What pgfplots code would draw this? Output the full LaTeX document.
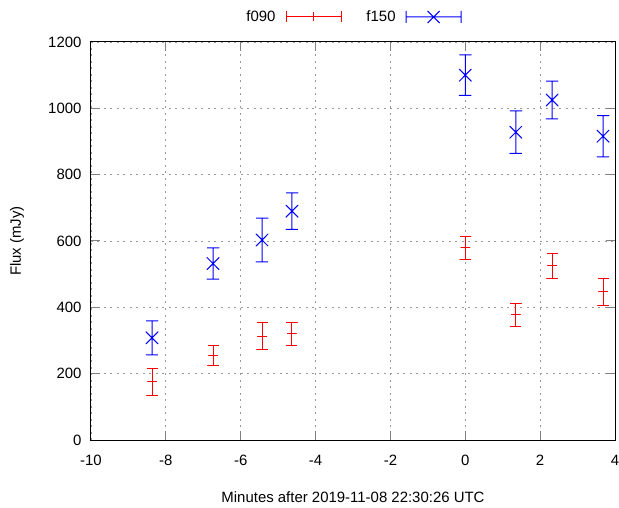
\documentclass[border=0pt]{standalone}
\usepackage{pgfplots}
\pgfplotsset{compat=1.18}
\usepackage{fontspec}
\setmainfont{Liberation Sans}
% Each point is drawn as one path (cap, bar, marker, bar, cap) so that no
% per-point mark scopes are used; points are separated by nan (jump).
% f090 (x, y, err): (-8.37,175,42) (-6.74,256,30) (-5.43,313,40) (-4.63,320,34)
%                   (0,580,35) (1.35,377,36) (2.32,525,37) (3.68,447,40)
% f150 (x, y, err): (-8.37,308,51) (-6.74,532,47) (-5.43,603,66) (-4.63,690,55)
%                   (0,1100,61) (1.35,928,64) (2.32,1025,57) (3.68,916,62)
\begin{document}
\begin{tikzpicture}
\begin{axis}[
  scale only axis,
  width=524bp, height=398bp,
  xmin=-10, xmax=4, ymin=0, ymax=1200,
  xtick={-10,-8,...,4}, ytick={0,200,...,1200},
  grid=major,
  grid style={draw=black!40, dash pattern=on 2bp off 4.5bp, line width=0.9bp},
  tick align=inside, major tick length=9bp,
  xtick pos=both, ytick pos=both,
  tick style={line width=1bp},
  axis line style={line width=1bp},
  unbounded coords=jump,
  /pgf/number format/assume math mode=true,
  /pgf/number format/1000 sep={},
  ticklabel style={font=\fontsize{15}{18}\selectfont},
  xticklabel style={yshift=-12bp},
  yticklabel style={xshift=-6bp},
  every axis x label/.style={at={(axis description cs:0.5,0)}, anchor=center, yshift=-57bp, font=\fontsize{15}{18}\selectfont},
  every axis y label/.style={at={(axis description cs:0,0.5)}, xshift=-74bp, rotate=90, anchor=center, font=\fontsize{15}{18}\selectfont},
  xlabel={Minutes after 2019-11-08 22:30:26 UTC},
  ylabel={Flux (mJy)},
  legend plot pos=right,
  legend columns=2,
  legend style={at={(axis description cs:0.5,1)}, yshift=25bp, anchor=center, draw=none, fill=none,
    font=\fontsize{15}{18}\selectfont,
    /tikz/every odd column/.append style={column sep=8bp},
    /tikz/every even column/.append style={column sep=23bp}},
]
\addplot[red, line width=1bp, line join=round, mark=none,
  legend image code/.code={
    \draw[red, line width=1bp] (0bp,-5.5bp) -- (0bp,5.5bp) (0bp,0bp) -- (55bp,0bp)
      (55bp,-5.5bp) -- (55bp,5.5bp) (27.5bp,-4.5bp) -- (27.5bp,4.5bp);}]
coordinates {
(-8.517,217) (-8.223,217) (-8.37,217) (-8.37,175) (-8.49,175) (-8.25,175) (-8.37,175) (-8.37,133) (-8.517,133) (-8.223,133) (nan,nan)
(-6.887,286) (-6.593,286) (-6.74,286) (-6.74,256) (-6.86,256) (-6.62,256) (-6.74,256) (-6.74,226) (-6.887,226) (-6.593,226) (nan,nan)
(-5.577,353) (-5.283,353) (-5.43,353) (-5.43,313) (-5.55,313) (-5.31,313) (-5.43,313) (-5.43,273) (-5.577,273) (-5.283,273) (nan,nan)
(-4.777,354) (-4.483,354) (-4.63,354) (-4.63,320) (-4.75,320) (-4.51,320) (-4.63,320) (-4.63,286) (-4.777,286) (-4.483,286) (nan,nan)
(-0.147,615) (0.147,615) (0,615) (0,580) (-0.12,580) (0.12,580) (0,580) (0,545) (-0.147,545) (0.147,545) (nan,nan)
(1.203,413) (1.497,413) (1.35,413) (1.35,377) (1.23,377) (1.47,377) (1.35,377) (1.35,341) (1.203,341) (1.497,341) (nan,nan)
(2.173,562) (2.467,562) (2.32,562) (2.32,525) (2.20,525) (2.44,525) (2.32,525) (2.32,488) (2.173,488) (2.467,488) (nan,nan)
(3.533,487) (3.827,487) (3.68,487) (3.68,447) (3.56,447) (3.80,447) (3.68,447) (3.68,407) (3.533,407) (3.827,407)
};
\addlegendentry{f090}
\addplot[blue, line width=1bp, line join=round, mark=none,
  legend image code/.code={
    \draw[blue, line width=1bp] (0bp,-6bp) -- (0bp,6bp) (0bp,0bp) -- (55bp,0bp)
      (55bp,-6bp) -- (55bp,6bp) (21.5bp,-6bp) -- (33.5bp,6bp) (21.5bp,6bp) -- (33.5bp,-6bp);}]
coordinates {
(-8.53,359) (-8.21,359) (-8.37,359) (-8.37,308) (-8.53,326.1) (-8.21,289.9) (-8.37,308) (-8.53,289.9) (-8.21,326.1) (-8.37,308) (-8.37,257) (-8.53,257) (-8.21,257) (nan,nan)
(-6.90,579) (-6.58,579) (-6.74,579) (-6.74,532) (-6.90,550.1) (-6.58,513.9) (-6.74,532) (-6.90,513.9) (-6.58,550.1) (-6.74,532) (-6.74,485) (-6.90,485) (-6.58,485) (nan,nan)
(-5.59,669) (-5.27,669) (-5.43,669) (-5.43,603) (-5.59,621.1) (-5.27,584.9) (-5.43,603) (-5.59,584.9) (-5.27,621.1) (-5.43,603) (-5.43,537) (-5.59,537) (-5.27,537) (nan,nan)
(-4.79,745) (-4.47,745) (-4.63,745) (-4.63,690) (-4.79,708.1) (-4.47,671.9) (-4.63,690) (-4.79,671.9) (-4.47,708.1) (-4.63,690) (-4.63,635) (-4.79,635) (-4.47,635) (nan,nan)
(-0.16,1161) (0.16,1161) (0,1161) (0,1100) (-0.16,1118.1) (0.16,1081.9) (0,1100) (-0.16,1081.9) (0.16,1118.1) (0,1100) (0,1039) (-0.16,1039) (0.16,1039) (nan,nan)
(1.19,992) (1.51,992) (1.35,992) (1.35,928) (1.19,946.1) (1.51,909.9) (1.35,928) (1.19,909.9) (1.51,946.1) (1.35,928) (1.35,864) (1.19,864) (1.51,864) (nan,nan)
(2.16,1082) (2.48,1082) (2.32,1082) (2.32,1025) (2.16,1043.1) (2.48,1006.9) (2.32,1025) (2.16,1006.9) (2.48,1043.1) (2.32,1025) (2.32,968) (2.16,968) (2.48,968) (nan,nan)
(3.52,978) (3.84,978) (3.68,978) (3.68,916) (3.52,934.1) (3.84,897.9) (3.68,916) (3.52,897.9) (3.84,934.1) (3.68,916) (3.68,854) (3.52,854) (3.84,854)
};
\addlegendentry{f150}
\end{axis}
\pgfresetboundingbox
\path (current axis.south west) ++(-91bp,-68bp) rectangle ++(619bp,508bp);
\end{tikzpicture}
\end{document}
